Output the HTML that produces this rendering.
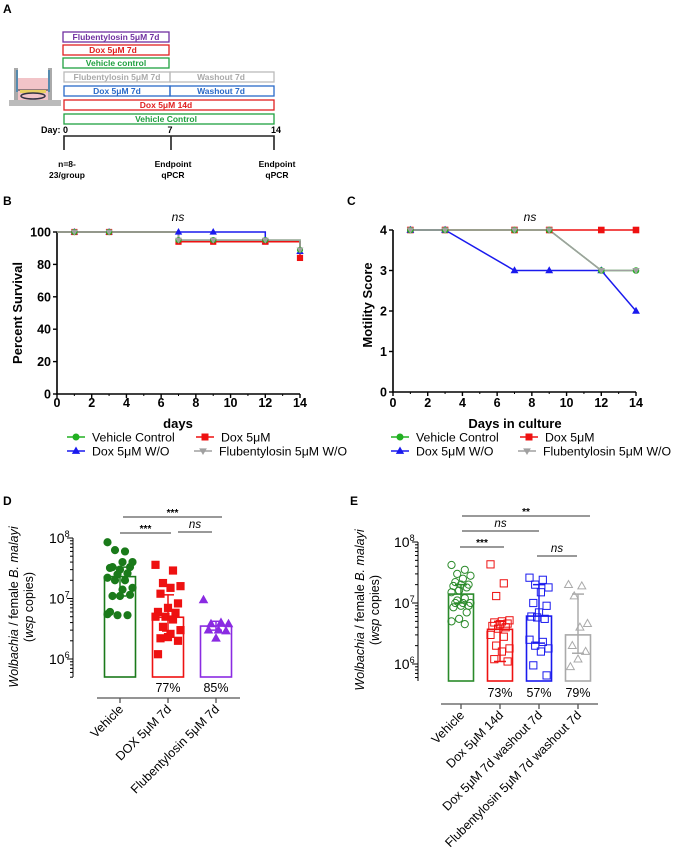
<!DOCTYPE html>
<html><head><meta charset="utf-8"><style>
html,body{margin:0;padding:0;background:#fff;}
svg{display:block;font-family:"Liberation Sans",Arial,sans-serif;}
</style></head><body>
<svg id="fig" width="683" height="851" viewBox="0 0 683 851" xmlns="http://www.w3.org/2000/svg">
<!-- Panel A -->
<g font-weight="bold" font-size="8.5" text-anchor="middle">
<text x="3" y="13" font-size="12" text-anchor="start">A</text>
<g>
<rect x="9" y="100" width="52" height="6" fill="#bbb"/>
<rect x="14" y="68" width="4" height="32" fill="#aaa"/><rect x="48" y="68" width="4" height="32" fill="#aaa"/>
<rect x="18" y="78" width="30" height="22" fill="#f2c4c8"/>
<line x1="18" y1="90" x2="48" y2="90" stroke="#333" stroke-width="1"/>
<rect x="20" y="90" width="26" height="3" fill="#e8d060"/>
<ellipse cx="33" cy="96" rx="12" ry="3" fill="none" stroke="#334" stroke-width="1.5"/>
<line x1="17" y1="70" x2="17" y2="92" stroke="#3a7fb0" stroke-width="1.5"/><line x1="49" y1="70" x2="49" y2="92" stroke="#3a7fb0" stroke-width="1.5"/>
</g>
<rect x="63" y="32" width="106" height="10" fill="none" stroke="#7030a0" stroke-width="1.3"/>
<text x="116" y="40" fill="#7030a0">Flubentylosin 5μM 7d</text>
<rect x="63" y="45" width="106" height="10" fill="none" stroke="#e02020" stroke-width="1.3"/>
<text x="113" y="53" fill="#e02020">Dox 5μM 7d</text>
<rect x="63" y="58" width="106" height="10" fill="none" stroke="#20a040" stroke-width="1.3"/>
<text x="116" y="66" fill="#20a040">Vehicle control</text>
<rect x="64" y="72" width="106" height="10" fill="none" stroke="#bbb" stroke-width="1.3"/>
<rect x="170" y="72" width="104" height="10" fill="none" stroke="#bbb" stroke-width="1.3"/>
<text x="117" y="80" fill="#aaa">Flubentylosin 5μM 7d</text>
<text x="221" y="80" fill="#aaa">Washout 7d</text>
<rect x="64" y="86" width="106" height="10" fill="none" stroke="#2a6ac8" stroke-width="1.3"/>
<rect x="170" y="86" width="104" height="10" fill="none" stroke="#2a6ac8" stroke-width="1.3"/>
<text x="117" y="94" fill="#2a6ac8">Dox 5μM 7d</text>
<text x="221" y="94" fill="#2a6ac8">Washout 7d</text>
<rect x="64" y="100" width="210" height="10" fill="none" stroke="#e02020" stroke-width="1.3"/>
<text x="166" y="108" fill="#e02020">Dox 5μM 14d</text>
<rect x="64" y="114" width="210" height="10" fill="none" stroke="#20a040" stroke-width="1.3"/>
<text x="166" y="122" fill="#20a040">Vehicle Control</text>
<text x="41" y="133" font-size="9" text-anchor="start">Day: 0</text>
<text x="170" y="133" font-size="9">7</text>
<text x="276" y="133" font-size="9">14</text>
<path d="M64,150 V136 H274 V150 M171,136 V150" fill="none" stroke="#222" stroke-width="1.6"/>
<text x="67" y="167">n=8-</text>
<text x="67" y="178">23/group</text>
<text x="173" y="167">Endpoint</text>
<text x="173" y="178">qPCR</text>
<text x="277" y="167">Endpoint</text>
<text x="277" y="178">qPCR</text>
</g>
<text x="3" y="205" font-size="12" font-weight="bold">B</text>
<text x="347" y="205" font-size="12" font-weight="bold">C</text>
<text x="3" y="505" font-size="12" font-weight="bold">D</text>
<text x="350" y="505" font-size="12" font-weight="bold">E</text>
<g id="gB"></g><g id="gC"></g><g id="gD"></g><g id="gE"></g><g id="gL"></g>
</svg>
<script>
// ---- Panel B data ----
const daysB = [1, 3, 7, 9, 12, 14];
const survVehicle = [100, 100, 95, 95, 95, 89];
const survDox = [100, 100, 94, 94, 94, 84];
const survDoxWO = [100, 100, 100, 100, 94, 88];
const survFlub = [100, 100, 95, 95, 95, 89];
const ticksB = [0, 20, 40, 60, 80, 100];
const xticksB = [0, 2, 4, 6, 8, 10, 12, 14];
// ---- Panel C data ----
const daysC = [1, 3, 7, 9, 12, 14];
const motVehicle = [4, 4, 4, 4, 3, 3];
const motDox = [4, 4, 4, 4, 4, 4];
const motDoxWO = [4, 4, 3, 3, 3, 2];
const motFlub = [4, 4, 4, 4, 3, 3];
const ticksC = [0, 1, 2, 3, 4];
// ---- Panel D data ----
const catsD = ["Vehicle", "DOX 5μM 7d", "Flubentylosin 5μM 7d"];
const barsD = [2.3e7, 4.9e6, 3.5e6];
const errLoD = [1.1e7, 2.9e6, 3.0e6];
const errHiD = [3.3e7, 1.15e7, 4.2e6];
const pctD = ["", "77%", "85%"];
const ptsVehD = [8.5e7, 6e7, 6.3e7, 4e7, 4e7, 3.3e7, 3.3e7, 3e7, 3.2e7, 2.6e7, 2.5e7, 2.2e7, 2e7, 2e7, 1.5e7, 1.4e7, 1.1e7, 1.15e7, 1.1e7, 6e6, 5.3e6, 5.3e6, 5.5e6];
const ptsDoxD = [3.6e7, 2.9e7, 1.8e7, 1.6e7, 1.5e7, 1.2e7, 8.3e6, 7e6, 6e6, 5.8e6, 5e6, 5e6, 4.5e6, 3.4e6, 3e6, 2.6e6, 2.2e6, 2e6, 2.3e6, 1.2e6];
const ptsFlubD = [9.5e6, 4e6, 3.8e6, 3.8e6, 3e6, 3e6, 2.9e6, 2.2e6];
// ---- Panel E data ----
const catsE = ["Vehicle", "Dox 5μM 14d", "Dox 5μM 7d washout 7d", "Flubentylosin 5μM 7d washout 7d"];
const barsE = [1.4e7, 3.7e6, 6.1e6, 3e6];
const errLoE = [1e7, 1.1e6, 2.2e6, 1.5e6];
const errHiE = [2e7, 5e6, 2e7, 1.4e7];
const pctE = ["", "73%", "57%", "79%"];
const ptsVehE = [4.2e7, 3.5e7, 3e7, 2.8e7, 2.5e7, 2.2e7, 2e7, 2e7, 1.9e7, 1.8e7, 1.6e7, 1.5e7, 1.2e7, 1.1e7, 1e7, 1e7, 1e7, 9e6, 9e6, 8.5e6, 7e6, 5.5e6, 5e6, 4.5e6];
const ptsDoxE = [4.3e7, 2.1e7, 1.3e7, 5.2e6, 5e6, 4.8e6, 4.6e6, 4.5e6, 4.2e6, 4e6, 3.8e6, 3e6, 2.8e6, 2e6, 1.8e6, 1.6e6, 1.2e6, 1.1e6];
const ptsDoxWOE = [2.6e7, 2.4e7, 2e7, 1.8e7, 1.5e7, 1e7, 9e6, 7e6, 6e6, 5.5e6, 5.8e6, 2.5e6, 2.3e6, 2e6, 1.8e6, 1.6e6, 9.5e5, 6.5e5];
const ptsFlubE = [2e7, 1.9e7, 1.3e7, 4.6e6, 4e6, 2e6, 1.6e6, 1.2e6, 9e5];

const NS = "http://www.w3.org/2000/svg";
function mk(tag, attrs, parent, name) {
  const e = document.createElementNS(NS, tag);
  for (const k in attrs) e.setAttribute(k, attrs[k]);
  
  
  parent.appendChild(e);
  return e;
}
function txt(parent, x, y, s, attrs, name) {
  const t = mk("text", Object.assign({x: x, y: y}, attrs), parent, name);
  t.textContent = s;
  return t;
}
function marker(parent, type, x, y, color, size, fill, name) {
  const f = fill === false ? "none" : color;
  if (type === "circle") return mk("circle", {cx: x, cy: y, r: size, fill: f, stroke: color, "stroke-width": 1}, parent, name);
  if (type === "square") return mk("rect", {x: x - size, y: y - size, width: 2 * size, height: 2 * size, fill: f, stroke: color, "stroke-width": 1}, parent, name);
  if (type === "tri") return mk("path", {d: `M${x},${y - size * 1.15} L${x + size * 1.1},${y + size * 0.8} L${x - size * 1.1},${y + size * 0.8}Z`, fill: f, stroke: color, "stroke-width": 1}, parent, name);
  if (type === "itri") return mk("path", {d: `M${x},${y + size} L${x + size},${y - size * 0.7} L${x - size},${y - size * 0.7}Z`, fill: f, stroke: color, "stroke-width": 1}, parent, name);
}
const GREEN = "#22b022", RED = "#ee1111", BLUE = "#1a1aee", GRAY = "#a0a0a0";

// ---- Panel B ----
(function () {
  const g = document.getElementById("gB");
  const x = d => 57 + d * (300 - 57) / 14;
  const y = v => 394 - v * (394 - 232) / 100;
  mk("path", {d: `M${x(0)},${y(100)} V${y(0)} H${x(14)}`, fill: "none", stroke: "#000", "stroke-width": 1.6}, g, "b-axes");
  ticksB.forEach(t => {
    mk("line", {x1: x(0) - 4, x2: x(0), y1: y(t), y2: y(t), stroke: "#000", "stroke-width": 1.4}, g, "b-y-tick");
    txt(g, x(0) - 6, y(t) + 4.5, String(t), {"font-size": 12.5, "font-weight": "bold", "text-anchor": "end"}, "b-y-tick-label");
  });
  xticksB.forEach(t => {
    mk("line", {x1: x(t), x2: x(t), y1: y(0), y2: y(0) + 4, stroke: "#000", "stroke-width": 1.4}, g, "b-x-tick");
    txt(g, x(t), 407, String(t), {"font-size": 12.5, "font-weight": "bold", "text-anchor": "middle"}, "b-x-tick-label");
  });
  for (let t = 1; t < 14; t += 2) mk("line", {x1: x(t), x2: x(t), y1: y(0), y2: y(0) + 2, stroke: "#000", "stroke-width": 1}, g, "b-x-minor-tick");
  txt(g, 178, 221, "ns", {"font-size": 12, "font-style": "italic", "text-anchor": "middle"}, "b-significance");
  txt(g, 0, 0, "Percent Survival", {"font-size": 13, "font-weight": "bold", "text-anchor": "middle", transform: "translate(22,313) rotate(-90)"}, "b-y-axis-title");
  txt(g, 178, 428, "days", {"font-size": 13, "font-weight": "bold", "text-anchor": "middle"}, "b-x-axis-title");
  const series = [[survDoxWO, BLUE, "tri", "dox-wo"], [survDox, RED, "square", "dox"], [survVehicle, GREEN, "circle", "vehicle"], [survFlub, GRAY, "itri", "flub"]];
  series.forEach(([vals, c, m, n]) => {
    let d = `M${x(0)},${y(100)}`;
    let prev = 100;
    daysB.forEach((dd, i) => { if (vals[i] !== prev) { d += ` H${x(dd)} V${y(vals[i])}`; prev = vals[i]; } });
    d += ` H${x(14)}`;
    mk("path", {d: d, fill: "none", stroke: c, "stroke-width": 1.5}, g, "b-line-" + n);
  });
  series.forEach(([vals, c, m, n]) => {
    daysB.forEach((dd, i) => marker(g, m, x(dd), y(vals[i]), c, 2.6, true, "b-point-" + n));
  });
})();

// ---- Panel C ----
(function () {
  const g = document.getElementById("gC");
  const x = d => 393 + d * (636 - 393) / 14;
  const y = v => 392 - v * (392 - 230) / 4;
  mk("path", {d: `M${x(0)},${y(4)} V${y(0)} H${x(14)}`, fill: "none", stroke: "#000", "stroke-width": 1.6}, g, "c-axes");
  ticksC.forEach(t => {
    mk("line", {x1: x(0) - 4, x2: x(0), y1: y(t), y2: y(t), stroke: "#000", "stroke-width": 1.4}, g, "c-y-tick");
    txt(g, x(0) - 6, y(t) + 4.5, String(t), {"font-size": 12.5, "font-weight": "bold", "text-anchor": "end"}, "c-y-tick-label");
  });
  xticksB.forEach(t => {
    mk("line", {x1: x(t), x2: x(t), y1: y(0), y2: y(0) + 4, stroke: "#000", "stroke-width": 1.4}, g, "c-x-tick");
    txt(g, x(t), 407, String(t), {"font-size": 12.5, "font-weight": "bold", "text-anchor": "middle"}, "c-x-tick-label");
  });
  for (let t = 1; t < 14; t += 2) mk("line", {x1: x(t), x2: x(t), y1: y(0), y2: y(0) + 2, stroke: "#000", "stroke-width": 1}, g, "c-x-minor-tick");
  txt(g, 530, 221, "ns", {"font-size": 12, "font-style": "italic", "text-anchor": "middle"}, "c-significance");
  txt(g, 0, 0, "Motility Score", {"font-size": 13, "font-weight": "bold", "text-anchor": "middle", transform: "translate(372,305) rotate(-90)"}, "c-y-axis-title");
  txt(g, 515, 428, "Days in culture", {"font-size": 13, "font-weight": "bold", "text-anchor": "middle"}, "c-x-axis-title");
  const series = [[motDox, RED, "square", "dox"], [motDoxWO, BLUE, "tri", "dox-wo"], [motVehicle, GREEN, "circle", "vehicle"], [motFlub, GRAY, "itri", "flub"]];
  series.forEach(([vals, c, m, n]) => {
    mk("polyline", {points: daysC.map((d, i) => x(d) + "," + y(vals[i])).join(" "), fill: "none", stroke: c, "stroke-width": 1.5}, g, "c-line-" + n);
  });
  series.forEach(([vals, c, m, n]) => {
    daysC.forEach((d, i) => marker(g, m, x(d), y(vals[i]), c, 2.8, true, "c-point-" + n));
  });
})();

// ---- Legends ----
(function () {
  const g = document.getElementById("gL");
  [0, 324].forEach(ox => {
    const items = [[76 + ox, 437, GREEN, "circle", "Vehicle Control"], [205 + ox, 437, RED, "square", "Dox 5μM"], [76 + ox, 451, BLUE, "tri", "Dox 5μM W/O"], [203 + ox, 451, GRAY, "itri", "Flubentylosin 5μM W/O"]];
    items.forEach(([mx, my, c, m, label]) => {
      mk("line", {x1: mx - 9, x2: mx + 9, y1: my, y2: my, stroke: c, "stroke-width": 1.5}, g, "legend-line");
      marker(g, m, mx, my, c, 3, true, "legend-marker");
      txt(g, mx + 16, my + 4.5, label, {"font-size": 12.3}, "legend-entry");
    });
  });
})();

// ---- Bar/scatter panel helper ----
function barPanel(g, P) {
  const y = v => P.y8 + (8 - Math.log10(v)) * P.dec;
  const ax = P.axisX;
  mk("line", {x1: ax, x2: ax, y1: P.y8, y2: P.bottom, stroke: "#000", "stroke-width": 1}, g, P.p + "-y-axis");
  for (let e = 5; e <= 8; e++) {
    for (let k = 1; k <= 9; k++) {
      const v = k * Math.pow(10, e);
      const yy = y(v);
      if (yy > P.bottom + 0.5 || yy < P.y8 - 0.5) continue;
      mk("line", {x1: ax - (k === 1 ? 6 : 3), x2: ax, y1: yy, y2: yy, stroke: "#000", "stroke-width": 1}, g, P.p + "-y-tick");
      if (k === 1 && e >= 6) {
        const t = txt(g, ax - 24, yy + 5, "10", {"font-size": 14}, P.p + "-y-tick-label");
        const s = document.createElementNS(NS, "tspan");
        s.setAttribute("dy", "-6"); s.setAttribute("font-size", "9"); s.textContent = String(e);
        t.appendChild(s);
      }
    }
  }
  const yt = mk("text", {"font-size": 12.5, "text-anchor": "middle", transform: `translate(${P.tx},${P.ty}) rotate(-90)`}, g, P.p + "-y-axis-title");
  yt.innerHTML = '<tspan font-style="italic">Wolbachia</tspan> / female <tspan font-style="italic">B. malayi</tspan>';
  const yt2 = mk("text", {"font-size": 12.5, "text-anchor": "middle", transform: `translate(${P.tx + 15},${P.ty}) rotate(-90)`}, g, P.p + "-y-axis-title-2");
  yt2.innerHTML = '(<tspan font-style="italic">wsp</tspan> copies)';
  mk("line", {x1: P.xl0, x2: P.xl1, y1: P.xline, y2: P.xline, stroke: "#555", "stroke-width": 1.3}, g, P.p + "-x-axis");
  P.cats.forEach((c, i) => {
    const cx = P.cx0 + i * P.step;
    const col = P.colors[i];
    mk("rect", {x: cx - P.bw / 2, y: y(P.bars[i]), width: P.bw, height: P.bottom - y(P.bars[i]), fill: "none", stroke: col, "stroke-width": 1.6}, g, P.p + "-bar-" + i);
    const pts = P.pts[i];
    pts.forEach((v, j) => {
      const off = ((j * 7) % 11 - 5) / 5 * (P.bw / 2 - 3);
      marker(g, P.mk[i], cx + off, y(v), col, P.ms, P.filled, P.p + "-point-" + i);
    });
    mk("line", {x1: cx, x2: cx, y1: y(P.hi[i]), y2: y(P.lo[i]), stroke: col, "stroke-width": 1.5}, g, P.p + "-error-bar-" + i);
    mk("line", {x1: cx - 6, x2: cx + 6, y1: y(P.hi[i]), y2: y(P.hi[i]), stroke: col, "stroke-width": 1.5}, g, P.p + "-error-cap-" + i);
    mk("line", {x1: cx - 6, x2: cx + 6, y1: y(P.lo[i]), y2: y(P.lo[i]), stroke: col, "stroke-width": 1.5}, g, P.p + "-error-cap-" + i);
    mk("line", {x1: cx, x2: cx, y1: P.xline, y2: P.xline + 5, stroke: "#555", "stroke-width": 1.3}, g, P.p + "-x-tick");
    if (P.pct[i]) txt(g, cx + P.pctOff, P.pctY, P.pct[i], {"font-size": 12.5, "text-anchor": "middle"}, P.p + "-percent-label");
    txt(g, 0, 0, c, {"font-size": 12.5, "text-anchor": "end", transform: `translate(${cx + 4},${P.xline + 12}) rotate(-45)`}, P.p + "-category-label");
  });
  P.sig.forEach(([x1, x2, yy, lab, it]) => {
    mk("line", {x1: x1, x2: x2, y1: yy, y2: yy, stroke: "#333", "stroke-width": 1}, g, P.p + "-significance-bar");
    txt(g, (x1 + x2) / 2, it ? yy - 4 : yy - 1, lab, {"font-size": it ? 11.5 : 10, "font-style": it ? "italic" : "normal", "font-weight": it ? "normal" : "bold", "text-anchor": "middle"}, P.p + "-significance-label");
  });
}
barPanel(document.getElementById("gD"), {
  p: "d", y8: 538, dec: 60.5, bottom: 677, axisX: 73, tx: 18, ty: 607,
  xl0: 97, xl1: 240, xline: 698, cx0: 120, step: 48, bw: 31,
  cats: catsD, bars: barsD, lo: errLoD, hi: errHiD, pct: pctD, pctOff: 0, pctY: 692,
  pts: [ptsVehD, ptsDoxD, ptsFlubD], colors: ["#1a7a1a", RED, "#8a2be2"], mk: ["circle", "square", "tri"], ms: 3.6, filled: true,
  sig: [[123, 222, 517, "***", false], [120, 171, 533, "***", false], [178, 212, 532, "ns", true]]
});
barPanel(document.getElementById("gE"), {
  p: "e", y8: 542, dec: 61, bottom: 681, axisX: 418, tx: 364, ty: 610,
  xl0: 441, xl1: 598, xline: 704, cx0: 461, step: 39, bw: 25,
  cats: catsE, bars: barsE, lo: errLoE, hi: errHiE, pct: pctE, pctOff: 0, pctY: 697,
  pts: [ptsVehE, ptsDoxE, ptsDoxWOE, ptsFlubE], colors: ["#2a8a2a", RED, BLUE, "#aaa"], mk: ["circle", "square", "square", "tri"], ms: 3.6, filled: false,
  sig: [[462, 590, 516, "**", false], [462, 539, 531, "ns", true], [460, 504, 547, "***", false], [537, 577, 556, "ns", true]]
});
</script>
</body></html>
